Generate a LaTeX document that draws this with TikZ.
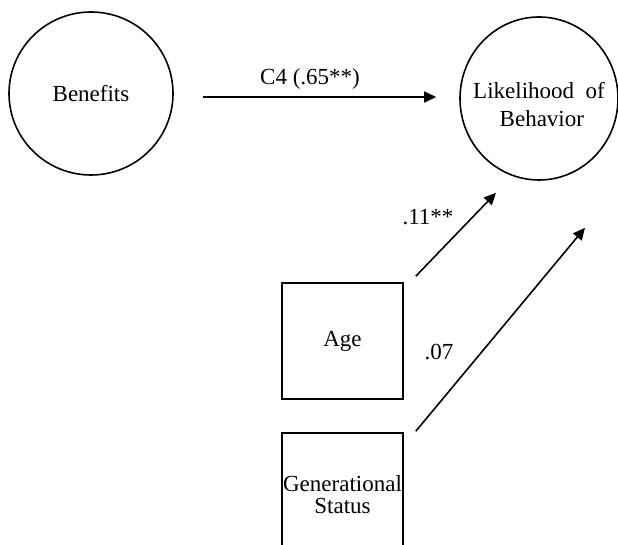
\documentclass[tikz,border=0pt]{standalone}
\usepackage{fontspec}
\setmainfont{Liberation Serif}
\usetikzlibrary{shapes.geometric,arrows.meta}
\begin{document}
\begin{tikzpicture}[x=1pt,y=-1pt,
font=\fontsize{23}{28}\selectfont,
roundnode/.style={ellipse, draw=black, line width=1.6pt, inner sep=0pt, align=center},
squarednode/.style={rectangle, draw=black, line width=1.6pt, minimum width=121pt, minimum height=116pt, inner sep=0pt, align=center},
arrowline/.style={line width=1.6pt, -{Triangle[length=12pt,width=11pt]}},
]
\useasboundingbox (0,0) rectangle (618,545);
\node[roundnode, minimum width=164pt, minimum height=163pt] (benefits) at (91,93.5) {Benefits};
\node[roundnode, minimum width=158pt, minimum height=163pt,
  label={[align=center, yshift=-6pt]center:Likelihood~ of\\ \ Behavior}] (likelihood) at (539,98.5) {};
\node[squarednode] (age) at (342.5,341) {Age};
\node[squarednode, minimum height=124pt, font=\fontsize{23}{22}\selectfont] (genstatus) at (342.5,495) {Generational\\Status};
% paths
\draw[arrowline] ([shift={(29,3.5)}]benefits.east) -- ([shift={(-23,-1.5)}]likelihood.west);
\draw[arrowline] ([shift={(12,-6)}]age.north east) -- ([shift={(-43,12)}]likelihood.south);
\draw[arrowline] ([shift={(12,-1)}]genstatus.north east) -- ([shift={(46,47)}]likelihood.south);
% estimates
\node (lblbenefits) at (310,79) {C4 (.65**)};
\node (lblage) at (428,217) {.11**};
\node (lblgen) at (439,352) {.07};
\end{tikzpicture}
\end{document}
